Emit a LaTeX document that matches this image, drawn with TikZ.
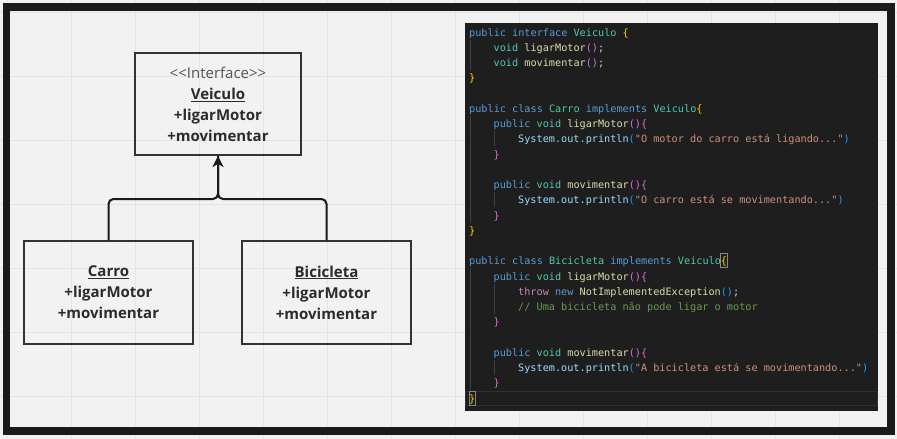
\documentclass[tikz,border=0pt]{standalone}
\usepackage{fontspec}
\usetikzlibrary{arrows.meta}
\newfontfamily\umlfont{Open Sans}
\newfontfamily\codefont{DejaVu Sans Mono}
\definecolor{bgc}{HTML}{F2F2F2}
\definecolor{gridc}{HTML}{E4E4E4}
\definecolor{framec}{HTML}{1A1A1A}
\definecolor{boxc}{HTML}{333333}
\definecolor{umltext}{HTML}{2B2B2B}
\definecolor{stereo}{HTML}{555555}
\definecolor{codebg}{HTML}{1E1E1E}
\definecolor{plain}{HTML}{D4D4D4}
\definecolor{kw}{HTML}{569CD6}
\definecolor{ty}{HTML}{4EC9B0}
\definecolor{fn}{HTML}{DCDCAA}
\definecolor{st}{HTML}{CE9178}
\definecolor{cm}{HTML}{6A9955}
\definecolor{vr}{HTML}{9CDCFE}
\definecolor{ctl}{HTML}{C586C0}
\definecolor{bone}{HTML}{FFD700}
\definecolor{btwo}{HTML}{DA70D6}
\definecolor{bthree}{HTML}{179FFF}
\definecolor{guide}{HTML}{404040}
\definecolor{matchc}{HTML}{888888}
\definecolor{curline}{HTML}{303030}
\newcommand\tk[2]{\textcolor{#1}{#2}}
\newcommand\cl[3]{\node (l#2) [codeline] at ({469+24.5*#1},{36+15.25*#2}) {#3};}
\tikzset{
  umlbox/.style={draw=boxc, line width=2pt, fill=none, align=center, inner sep=0pt,
    font=\umlfont\fontsize{15}{21}\selectfont\bfseries, text=umltext},
  codeline/.style={anchor=base west, inner sep=0pt, text=plain,
    font=\codefont\fontsize{10.2}{12}\selectfont},
  conn/.style={draw=framec, line width=2pt, rounded corners=5pt},
}
\begin{document}
\begin{tikzpicture}[x=1pt,y=-1pt]
\useasboundingbox (0,0) rectangle (897,439);
\fill[bgc] (0,0) rectangle (897,439);
\foreach \x in {7,71,...,903} \draw[gridc, line width=1pt] (\x,0) -- (\x,439);
\foreach \y in {12,76,...,460} \draw[gridc, line width=1pt] (0,\y) -- (897,\y);
% outer frame
\draw[framec, line width=7.5pt] (6.5,7) rectangle (891,431);

% UML
\node (veiculo) [umlbox, minimum width=166pt, minimum height=102pt] at (218,104)
  {{\mdseries\color{stereo}<<Interface>>}\\ \underline{Veiculo}\\ +ligarMotor\\ +movimentar};
\node (carro) [umlbox, minimum width=169pt, minimum height=103pt] at (108.5,292.5)
  {\underline{Carro}\\ +ligarMotor\\ +movimentar};
\node (bicicleta) [umlbox, minimum width=169pt, minimum height=103pt] at (326.5,292.5)
  {\underline{Bicicleta}\\ +ligarMotor\\ +movimentar};
\coordinate (j) at (218,199);
\draw[conn] (carro.north) |- (j) -- (veiculo.south);
\draw[conn, -{Stealth[length=11pt,width=11pt,inset=3pt]}] (bicicleta.north) |- (j) -- (veiculo.south);

% code panel
\fill[codebg] (465,23) rectangle (878,411);
\draw[curline, line width=1pt] (465.5,391) rectangle (877.5,405);
% indent guides
\draw[guide, line width=0.8pt] (470,{32+15.25*1-7.6}) -- (470,{32+15.25*2+7.6});
\draw[guide, line width=0.8pt] (470,{32+15.25*6-7.6}) -- (470,{32+15.25*12+7.6});
\draw[guide, line width=0.8pt] (494,{32+15.25*7-7.6}) -- (494,{32+15.25*7+7.6});
\draw[guide, line width=0.8pt] (494,{32+15.25*11-7.6}) -- (494,{32+15.25*11+7.6});
\draw[guide, line width=0.8pt] (470,{32+15.25*16-7.6}) -- (470,{32+15.25*23+7.6});
\draw[guide, line width=0.8pt] (494,{32+15.25*17-7.6}) -- (494,{32+15.25*18+7.6});
\draw[guide, line width=0.8pt] (494,{32+15.25*22-7.6}) -- (494,{32+15.25*22+7.6});
% bracket match boxes
\draw[matchc, line width=0.8pt] ({469+41*6.13},{32+15.25*15-7}) rectangle +(6.6,14);
\draw[matchc, line width=0.8pt] (469,{32+15.25*24-7}) rectangle +(6.6,14);

\cl{0}{0}{\tk{kw}{public} \tk{kw}{interface} \tk{ty}{Veiculo} \tk{bone}{\{}}
\cl{1}{1}{\tk{ty}{void} \tk{fn}{ligarMotor}\tk{btwo}{()};}
\cl{1}{2}{\tk{ty}{void} \tk{fn}{movimentar}\tk{btwo}{()};}
\cl{0}{3}{\tk{bone}{\}}}
\cl{0}{5}{\tk{kw}{public} \tk{kw}{class} \tk{ty}{Carro} \tk{kw}{implements} \tk{ty}{Veiculo}\tk{bone}{\{}}
\cl{1}{6}{\tk{kw}{public} \tk{ty}{void} \tk{fn}{ligarMotor}\tk{btwo}{()\{}}
\cl{2}{7}{\tk{vr}{System.out.println}\tk{bthree}{(}\tk{st}{"O motor do carro está ligando..."}\tk{bthree}{)}}
\cl{1}{8}{\tk{btwo}{\}}}
\cl{1}{10}{\tk{kw}{public} \tk{ty}{void} \tk{fn}{movimentar}\tk{btwo}{()\{}}
\cl{2}{11}{\tk{vr}{System.out.println}\tk{bthree}{(}\tk{st}{"O carro está se movimentando..."}\tk{bthree}{)}}
\cl{1}{12}{\tk{btwo}{\}}}
\cl{0}{13}{\tk{bone}{\}}}
\cl{0}{15}{\tk{kw}{public} \tk{kw}{class} \tk{ty}{Bicicleta} \tk{kw}{implements} \tk{ty}{Veiculo}\tk{bone}{\{}}
\cl{1}{16}{\tk{kw}{public} \tk{ty}{void} \tk{fn}{ligarMotor}\tk{btwo}{()\{}}
\cl{2}{17}{\tk{ctl}{throw} \tk{kw}{new} \tk{fn}{NotImplementedException}\tk{bthree}{()};}
\cl{2}{18}{\tk{cm}{// Uma bicicleta não pode ligar o motor}}
\cl{1}{19}{\tk{btwo}{\}}}
\cl{1}{21}{\tk{kw}{public} \tk{ty}{void} \tk{fn}{movimentar}\tk{btwo}{()\{}}
\cl{2}{22}{\tk{vr}{System.out.println}\tk{bthree}{(}\tk{st}{"A bicicleta está se movimentando..."}\tk{bthree}{)}}
\cl{1}{23}{\tk{btwo}{\}}}
\cl{0}{24}{\tk{bone}{\}}}
\end{tikzpicture}
\end{document}
